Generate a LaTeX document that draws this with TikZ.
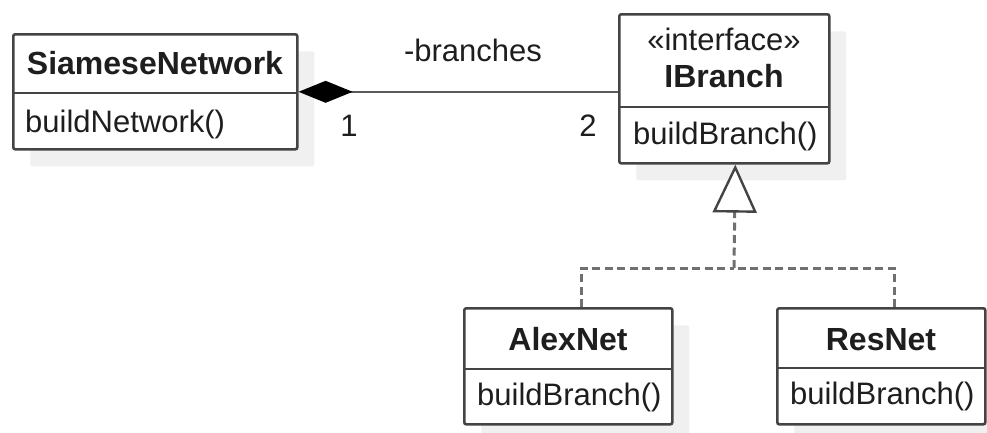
\documentclass[tikz,border=0pt]{standalone}
\usepackage{fontspec}
\setmainfont{Liberation Sans}
\usetikzlibrary{arrows.meta,shadows}

\definecolor{boxline}{HTML}{444444}
\definecolor{connline}{HTML}{5A5A5A}
\definecolor{dashline}{HTML}{707070}
\definecolor{shadowgray}{HTML}{F0F0F0}
\definecolor{txt}{HTML}{1E1E1E}

\tikzset{
  classbox/.style={draw=boxline, line width=2.6pt, fill=white, rounded corners=2pt,
    anchor=north west, inner sep=0pt,
    drop shadow={shadow xshift=17pt, shadow yshift=-17pt, fill=shadowgray, opacity=1}},
  divider/.style={draw=boxline, line width=2.6pt},
  titletext/.style={font=\fontsize{32}{38}\selectfont\bfseries, text=txt, inner sep=0pt, anchor=base},
  stereotext/.style={font=\fontsize{31}{37}\selectfont, text=txt, inner sep=0pt, anchor=base},
  methodtext/.style={font=\fontsize{31}{37}\selectfont, text=txt, inner sep=0pt, anchor=base west},
  labeltext/.style={font=\fontsize{31}{37}\selectfont, text=txt, inner sep=0pt, anchor=base},
  composition/.style={draw=connline, line width=2.6pt,
    {Diamond[length=54pt, width=22pt, color=black, fill=black]}-},
  realization/.style={draw=dashline, line width=3pt, dash pattern=on 8pt off 4.5pt},
  realtip/.style={-{Triangle[length=48pt, width=44pt, color=boxline, fill=white, line width=2.4pt]}},
}

\begin{document}
\begin{tikzpicture}[x=1pt, y=-1pt]
  \useasboundingbox (0,0) rectangle (987,432);

  % SiameseNetwork class
  \node[classbox, minimum width=284pt, minimum height=115pt] (sn) at (12,33) {};
  \draw[divider] (12,93) -- (296,93);
  \node[titletext] (snname) at (155,74) {SiameseNetwork};
  \node[methodtext] (snop) at (25,132) {buildNetwork()};

  % IBranch interface
  \node[classbox, minimum width=210pt, minimum height=149pt] (ib) at (618,13) {};
  \draw[divider] (618,107) -- (828,107);
  \node[stereotext] (ibstereo) at (724,50) {«interface»};
  \node[titletext] (ibname) at (724,87) {IBranch};
  \node[methodtext] (ibop) at (633,144) {buildBranch()};

  % AlexNet class
  \node[classbox, minimum width=208pt, minimum height=116pt] (alex) at (463,307) {};
  \draw[divider] (463,369) -- (671,369);
  \node[titletext] (alexname) at (568,350) {AlexNet};
  \node[methodtext] (alexop) at (477,405) {buildBranch()};

  % ResNet class
  \node[classbox, minimum width=208pt, minimum height=116pt] (res) at (776,307) {};
  \draw[divider] (776,368) -- (984,368);
  \node[titletext] (resname) at (881,350) {ResNet};
  \node[methodtext] (resop) at (790,404) {buildBranch()};

  % composition SiameseNetwork <>-- IBranch
  \draw[composition] (sn.east) -- (sn.east -| ib.west);
  \node[labeltext] (rolelbl) at (473,61) {-branches};
  \node[labeltext] (multsn) at (349,136) {1};
  \node[labeltext] (multib) at (588,136) {2};

  % realization of IBranch by AlexNet and ResNet
  \coordinate (join) at (734,268);
  \draw[realization] ([xshift=13pt]alex.north) |- (join);
  \draw[realization] ([xshift=13pt]res.north) |- (join);
  \draw[realization, realtip] (join) -- ([xshift=11pt]ib.south);
\end{tikzpicture}
\end{document}
